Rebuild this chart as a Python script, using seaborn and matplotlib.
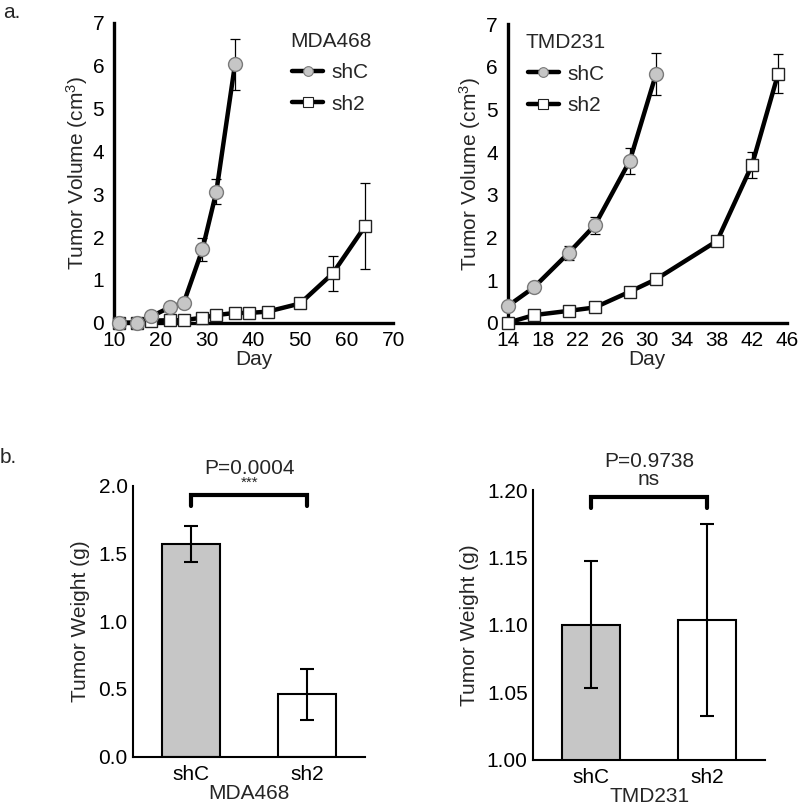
import matplotlib
matplotlib.use("Agg")
import matplotlib.pyplot as plt
from matplotlib.lines import Line2D
import seaborn as sns
import pandas as pd
import numpy as np

# ---------------- data ----------------
mda_shC_day = [11, 15, 18, 22, 25, 29, 32, 36]
mda_shC_vol = [0.0, 0.0, 0.15, 0.36, 0.47, 1.71, 3.06, 6.03]
mda_shC_err = [0.0, 0.0, 0.0, 0.0, 0.0, 0.26, 0.30, 0.60]

mda_sh2_day = [11, 15, 18, 22, 25, 29, 32, 36, 39, 43, 50, 57, 64]
mda_sh2_vol = [0.0, 0.0, 0.05, 0.06, 0.06, 0.12, 0.18, 0.23, 0.23, 0.26, 0.45, 1.15, 2.26]
mda_sh2_err = [0.0, 0.0, 0.0, 0.0, 0.0, 0.0, 0.0, 0.0, 0.0, 0.0, 0.0, 0.40, 1.01]

tmd_shC_day = [14, 17, 21, 24, 28, 31]
tmd_shC_vol = [0.39, 0.83, 1.64, 2.29, 3.80, 5.83]
tmd_shC_err = [0.0, 0.0, 0.17, 0.20, 0.30, 0.50]

tmd_sh2_day = [14, 17, 21, 24, 28, 31, 38, 42, 45]
tmd_sh2_vol = [0.0, 0.18, 0.28, 0.36, 0.73, 1.02, 1.92, 3.70, 5.84]
tmd_sh2_err = [0.0, 0.0, 0.0, 0.0, 0.0, 0.0, 0.0, 0.30, 0.46]

groups = ["shC", "sh2"]
mda_weight = [1.57, 0.46]
mda_weight_err = [0.13, 0.19]
tmd_weight = [1.100, 1.1035]
tmd_weight_err = [0.047, 0.071]

mda_p = "P=0.0004"
mda_sig = "***"
tmd_p = "P=0.9738"
tmd_sig = "ns"

# ---------------- style ----------------
sns.set_theme(style="white")
plt.rcParams["font.family"] = ["Liberation Sans", "DejaVu Sans"]
plt.rcParams["mathtext.fontset"] = "custom"
plt.rcParams["mathtext.rm"] = "Liberation Sans"
plt.rcParams["mathtext.it"] = "Liberation Sans"
FS = 15

fig = plt.figure(figsize=(8, 8.09), dpi=100)

ax1 = fig.add_axes([0.1425, 0.601, 0.349, 0.371])
ax2 = fig.add_axes([0.6346, 0.601, 0.349, 0.369])
ax3 = fig.add_axes([0.1666, 0.0647, 0.2896, 0.335])
ax4 = fig.add_axes([0.6666, 0.0610, 0.2896, 0.3333])

circle_kw = dict(marker="o", markersize=10, markerfacecolor="#c6c6c6",
                 markeredgecolor="#7a7a7a", markeredgewidth=1.0)
square_kw = dict(marker="s", markersize=8.5, markerfacecolor="white",
                 markeredgecolor="#222222", markeredgewidth=1.0)


def growth(ax, shC_d, shC_v, shC_e, sh2_d, sh2_v, sh2_e, xlim, xticks, title, leg_x):
    ax.errorbar(shC_d, shC_v, yerr=shC_e, fmt="none", ecolor="black",
                elinewidth=0.9, capsize=3.5, capthick=0.9, zorder=1, clip_on=False)
    ax.errorbar(sh2_d, sh2_v, yerr=sh2_e, fmt="none", ecolor="black",
                elinewidth=0.9, capsize=3.5, capthick=0.9, zorder=1, clip_on=False)
    df1 = pd.DataFrame({"Day": sh2_d, "Vol": sh2_v})
    df0 = pd.DataFrame({"Day": shC_d, "Vol": shC_v})
    sns.lineplot(data=df1, x="Day", y="Vol", ax=ax, color="black", linewidth=3.2,
                 zorder=3, clip_on=False, **square_kw)
    sns.lineplot(data=df0, x="Day", y="Vol", ax=ax, color="black", linewidth=3.2,
                 zorder=4, clip_on=False, **circle_kw)
    ax.set_xlim(*xlim)
    ax.set_ylim(0, 7)
    ax.set_xticks(xticks)
    ax.set_yticks(range(0, 8))
    ax.set_xlabel("Day", fontsize=FS, labelpad=0)
    ax.set_ylabel(r"Tumor Volume (cm$^{3}$)", fontsize=FS, labelpad=2)
    for s in ["top", "right"]:
        ax.spines[s].set_visible(False)
    for s in ["left", "bottom"]:
        ax.spines[s].set_linewidth(2.4)
        ax.spines[s].set_color("black")
    ax.tick_params(axis="x", direction="out", length=3, width=2, colors="black",
                   labelsize=FS, pad=3)
    ax.tick_params(axis="y", direction="out", length=3, width=2, colors="black",
                   labelsize=FS, pad=4)
    handles = [
        Line2D([], [], color="black", linewidth=3.2, marker="o", markersize=7,
               markerfacecolor="#c6c6c6", markeredgecolor="#7a7a7a", markeredgewidth=0.8),
        Line2D([], [], color="black", linewidth=3.2, marker="s", markersize=6.5,
               markerfacecolor="white", markeredgecolor="#222222", markeredgewidth=0.8),
    ]
    ax.legend(handles, groups, title=title, loc="upper left",
              bbox_to_anchor=(leg_x, 0.97), frameon=False, fontsize=FS,
              title_fontsize=FS, handlelength=1.5, handletextpad=0.4,
              labelspacing=0.6, borderpad=0, borderaxespad=0)
    ax.patch.set_alpha(0)


growth(ax1, mda_shC_day, mda_shC_vol, mda_shC_err, mda_sh2_day, mda_sh2_vol, mda_sh2_err,
       (10, 70), range(10, 71, 10), "MDA468", 0.63)
growth(ax2, tmd_shC_day, tmd_shC_vol, tmd_shC_err, tmd_sh2_day, tmd_sh2_vol, tmd_sh2_err,
       (14, 46), range(14, 47, 4), "TMD231", 0.065)


def weights(ax, vals, errs, ylim, yticks, fmt, xlabel, p_text, sig, br_y, br_drop,
            p_y, sig_y, sig_fs):
    df = pd.DataFrame({"Group": groups, "Weight": vals})
    sns.barplot(data=df, x="Group", y="Weight", hue="Group",
                palette=["#c6c6c6", "white"], edgecolor="black", linewidth=1.5,
                width=0.5, ax=ax, legend=False)
    ax.errorbar(range(len(vals)), vals, yerr=errs, fmt="none", ecolor="black",
                elinewidth=1.5, capsize=5, capthick=1.5, zorder=5)
    ax.set_ylim(*ylim)
    ax.set_xlim(-0.5, 1.5)
    ax.set_yticks(yticks)
    ax.set_yticklabels([fmt.format(t) for t in yticks])
    ax.set_xlabel(xlabel, fontsize=FS, labelpad=0)
    ax.set_ylabel("Tumor Weight (g)", fontsize=FS, labelpad=6)
    for s in ["top", "right"]:
        ax.spines[s].set_visible(False)
    for s in ["left", "bottom"]:
        ax.spines[s].set_linewidth(1.5)
        ax.spines[s].set_color("black")
    ax.tick_params(axis="y", direction="out", length=3, width=1.2, colors="black",
                   labelsize=FS, pad=1)
    ax.tick_params(axis="x", length=0, colors="black", labelsize=FS, pad=6)
    ax.plot([0, 0, 1, 1], [br_y - br_drop, br_y, br_y, br_y - br_drop], color="black",
            linewidth=3, clip_on=False, solid_joinstyle="miter")
    ax.text(0.5, p_y, p_text, ha="center", va="center", fontsize=FS)
    ax.text(0.5, sig_y, sig, ha="center", va="center", fontsize=sig_fs)


weights(ax3, mda_weight, mda_weight_err, (0, 2.0), [0.0, 0.5, 1.0, 1.5, 2.0], "{:.1f}",
        "MDA468", mda_p, mda_sig, 1.93, 0.08, 2.13, 2.02, 11)
weights(ax4, tmd_weight, tmd_weight_err, (1.0, 1.2), [1.00, 1.05, 1.10, 1.15, 1.20], "{:.2f}",
        "TMD231", tmd_p, tmd_sig, 1.1946, 0.008, 1.221, 1.2075, FS)

fig.text(0.004, 1 - 3 / 809, "a.", ha="left", va="top", fontsize=FS)
fig.text(0.0, 1 - 448 / 809, "b.", ha="left", va="top", fontsize=FS)

fig.savefig("out.png", dpi=100)
